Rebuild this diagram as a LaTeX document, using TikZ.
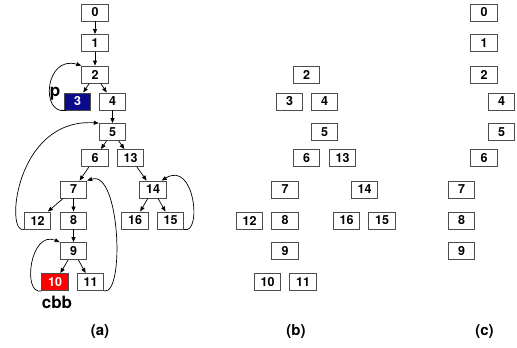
\documentclass[tikz,border=0pt]{standalone}
\usepackage{fontspec}
\setmainfont{TeX Gyre Heros}
\usetikzlibrary{arrows.meta}
\tikzset{
  bx/.style={draw=black!70, line width=0.9pt, minimum width=26.5pt, minimum height=17pt, inner sep=0pt, font=\fontsize{12.5}{14}\selectfont\bfseries},
  arr/.style={draw=black, line width=0.7pt, -{Triangle[length=5pt,width=4pt]}},
  lbl/.style={font=\fontsize{17}{19}\selectfont\bfseries, inner sep=0pt},
  captxt/.style={font=\fontsize{15}{17}\selectfont\bfseries, inner sep=0pt}
}
\definecolor{navyb}{RGB}{10,10,138}
\begin{document}
\begin{tikzpicture}[x=1pt,y=-1pt]
\useasboundingbox (0,0) rectangle (517,348);
% panel (a)
\node[bx] (a0) at (95,12.5) {0};
\node[bx] (a1) at (95,43) {1};
\node[bx] (a2) at (95,74.5) {2};
\node[bx, fill=navyb, text=white] (a3) at (77.5,101.5) {3};
\node[bx] (a4) at (112.5,101.5) {4};
\node[bx] (a5) at (112.5,132) {5};
\node[bx] (a6) at (95,158) {6};
\node[bx] (a13) at (130.5,158) {13};
\node[bx] (a7) at (73.5,189.5) {7};
\node[bx] (a14) at (153,189.5) {14};
\node[bx] (a12) at (37.5,220.5) {12};
\node[bx] (a8) at (73.5,220.5) {8};
\node[bx] (a16) at (135,220.5) {16};
\node[bx] (a15) at (170.5,220.5) {15};
\node[bx] (a9) at (73.5,251) {9};
\node[bx, fill=red, text=white] (a10) at (55,282) {10};
\node[bx] (a11) at (90.5,282) {11};
\node[lbl] (lp) at (55,94) {p};
\node[lbl] (lcbb) at (57,302) {cbb};
\node[captxt] (ca) at (100,332) {(a)};
\draw[arr] (a0) -- (a1);
\draw[arr] (a1) -- (a2);
\draw[arr] (a2) -- (a3);
\draw[arr] (a2) -- (a4);
\draw[arr] (a4) -- (a5);
\draw[arr] (a5) -- (a6);
\draw[arr] (a5) -- (a13);
\draw[arr] (a6) -- (a7);
\draw[arr] (a13) -- (a14);
\draw[arr] (a7) -- (a12);
\draw[arr] (a7) -- (a8);
\draw[arr] (a14) -- (a16);
\draw[arr] (a14) -- (a15);
\draw[arr] (a8) -- (a9);
\draw[arr] (a9) -- (a10);
\draw[arr] (a9) -- (a11);
\draw[arr] ([xshift=2pt]a3.south west) .. controls (40,115) and (45,55) .. (a2.north west);
\draw[arr] (a12.south west) .. controls (5,235) and (15,118) .. (a5.north west);
\draw[arr] (a15.south east) .. controls (202,235) and (195,160) .. ([xshift=-5pt]a14.north east);
\draw[arr] (a10.south west) .. controls (22,295) and (30,230) .. (a9.north west);
\draw[arr] (a11.south east) .. controls (125,295) and (120,170) .. (a7.north east);
% panel (b)
\node[bx] (b2) at (306.5,74.5) {2};
\node[bx] (b3) at (289.5,101.5) {3};
\node[bx] (b4) at (324.5,101.5) {4};
\node[bx] (b5) at (324.5,132) {5};
\node[bx] (b6) at (306.5,158) {6};
\node[bx] (b13) at (342.5,158) {13};
\node[bx] (b7) at (285,189.5) {7};
\node[bx] (b14) at (364.5,189.5) {14};
\node[bx] (b12) at (249.5,220.5) {12};
\node[bx] (b8) at (285,220.5) {8};
\node[bx] (b16) at (346.5,220.5) {16};
\node[bx] (b15) at (382,220.5) {15};
\node[bx] (b9) at (285,251) {9};
\node[bx] (b10) at (267.5,282) {10};
\node[bx] (b11) at (303,282) {11};
\node[captxt] (cb) at (296,332) {(b)};
% panel (c)
\node[bx] (c0) at (484,12.5) {0};
\node[bx] (c1) at (484,43) {1};
\node[bx] (c2) at (484,74.5) {2};
\node[bx] (c4) at (501.5,101.5) {4};
\node[bx] (c5) at (501.5,132) {5};
\node[bx] (c6) at (484,158) {6};
\node[bx] (c7) at (461.5,189.5) {7};
\node[bx] (c8) at (461.5,220.5) {8};
\node[bx] (c9) at (461.5,251) {9};
\node[captxt] (cc) at (484.5,332) {(c)};
\end{tikzpicture}
\end{document}
